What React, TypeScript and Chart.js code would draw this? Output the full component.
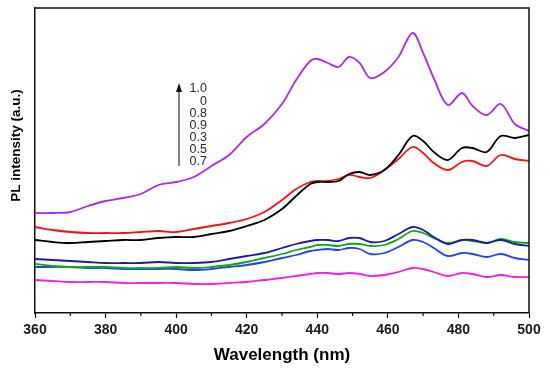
import React, { useEffect, useRef } from "react";
import { Chart, registerables } from "chart.js";

Chart.register(...registerables);

const wavelengths = [360, 365, 370, 375, 380, 385, 390, 395, 400, 405, 410, 415, 420, 425, 430, 434, 438, 440, 443, 446, 449, 452, 455, 459, 463, 467, 470, 473, 477, 481, 484, 488, 492, 496, 500];

const purple = [100, 100, 101, 107, 112, 115, 119, 128, 131, 136, 147, 158, 176, 189, 209, 233, 252, 254, 250, 246, 256, 250, 235, 241, 256, 280, 260, 235, 208, 220, 207, 198, 209, 189, 182];
const black = [73, 71, 70, 71, 72, 73, 73, 75, 76, 76, 79, 82, 87, 93, 104, 117, 129, 131, 131, 132, 139, 141, 138, 143, 158, 177, 172, 161, 153, 165, 165, 161, 177, 175, 178];
const red = [86, 83, 81, 80, 80, 80, 81, 82, 81, 84, 87, 90, 94, 101, 113, 124, 131, 132, 132, 134, 138, 136, 135, 143, 154, 166, 160, 150, 143, 151, 152, 147, 158, 154, 152];
const navy = [54, 53, 52, 51, 50, 50, 50, 51, 50, 50, 51, 54, 57, 60, 65, 69, 72, 73, 73, 72, 75, 75, 71, 72, 79, 86, 83, 76, 69, 73, 73, 70, 73, 69, 67];
const green = [49, 47, 46, 46, 46, 45, 45, 45, 46, 45, 46, 48, 51, 55, 59, 63, 66, 68, 68, 67, 69, 69, 67, 68, 74, 82, 80, 75, 70, 73, 72, 70, 74, 71, 70];
const blue = [46, 46, 46, 45, 45, 44, 44, 44, 44, 43, 44, 46, 48, 51, 55, 58, 62, 63, 64, 63, 65, 64, 59, 60, 66, 73, 71, 65, 57, 60, 59, 56, 59, 55, 53];
const magenta = [33, 32, 31, 31, 31, 30, 30, 30, 30, 29, 29, 30, 31, 33, 35, 37, 39, 40, 40, 39, 40, 39, 37, 38, 41, 45, 44, 41, 37, 40, 39, 36, 38, 36, 36];

const legendLabels = ["1.0", "0", "0.8", "0.9", "0.3", "0.5", "0.7"];

const xTicks = [360, 380, 400, 420, 440, 460, 480, 500];

const seriesList = [
  { label: "1.0", data: purple, color: "#A82CF2" },
  { label: "0", data: black, color: "#000000" },
  { label: "0.8", data: red, color: "#FF1010" },
  { label: "0.9", data: navy, color: "#1C1C9C" },
  { label: "0.3", data: green, color: "#14A814" },
  { label: "0.5", data: blue, color: "#2244F2" },
  { label: "0.7", data: magenta, color: "#F020EC" },
];

const FONT = "'Liberation Sans', Arial, sans-serif";

const annotationPlugin = {
  id: "annotationPlugin",
  afterDraw(chart: any) {
    const ctx = chart.ctx;
    const area = chart.chartArea;
    const xs = chart.scales.x;
    ctx.save();
    // frame (top and right)
    ctx.strokeStyle = "#111";
    ctx.lineWidth = 1.5;
    ctx.beginPath();
    ctx.moveTo(area.left, area.top);
    ctx.lineTo(area.right, area.top);
    ctx.lineTo(area.right, area.bottom);
    ctx.stroke();
    // minor ticks
    ctx.lineWidth = 1.2;
    for (let v = 370; v < 500; v += 20) {
      const px = xs.getPixelForValue(v);
      ctx.beginPath();
      ctx.moveTo(px, area.bottom);
      ctx.lineTo(px, area.bottom + 3);
      ctx.stroke();
    }
    // arrow
    const ax = 179;
    ctx.strokeStyle = "#333";
    ctx.lineWidth = 1.2;
    ctx.beginPath();
    ctx.moveTo(ax, 166);
    ctx.lineTo(ax, 90);
    ctx.stroke();
    ctx.fillStyle = "#111";
    ctx.beginPath();
    ctx.moveTo(ax, 83);
    ctx.lineTo(ax - 3, 92);
    ctx.lineTo(ax + 3, 92);
    ctx.closePath();
    ctx.fill();
    // labels
    ctx.font = "12.5px " + FONT;
    ctx.fillStyle = "#2a2a2a";
    ctx.textAlign = "right";
    ctx.textBaseline = "middle";
    legendLabels.forEach((t, i) => {
      ctx.fillText(t, 207, 89 + i * 12.1);
    });
    ctx.restore();
  },
};

export default function App() {
  const canvasRef = useRef<HTMLCanvasElement | null>(null);

  useEffect(() => {
    if (!canvasRef.current) return;
    const chart = new Chart(canvasRef.current, {
      type: "line",
      data: {
        labels: wavelengths,
        datasets: seriesList.map((s) => ({
          label: s.label,
          data: s.data.map((v, i) => ({ x: wavelengths[i], y: v })),
          borderColor: s.color,
          backgroundColor: s.color,
          borderWidth: 1.8,
          pointRadius: 0,
          tension: 0.35,
          fill: false,
        })),
      },
      options: {
        animation: false,
        responsive: false,
        maintainAspectRatio: false,
        layout: { padding: { top: 8, right: 21, left: 0, bottom: 0 } },
        plugins: {
          legend: { display: false },
          tooltip: { enabled: false },
        },
        scales: {
          x: {
            type: "linear",
            min: 360,
            max: 500,
            afterFit: (scale: any) => {
              scale.height = 59;
            },
            afterBuildTicks: (scale: any) => {
              scale.ticks = xTicks.map((v) => ({ value: v }));
            },
            ticks: {
              autoSkip: false,
              maxRotation: 0,
              padding: 4,
              color: "#1a1a1a",
              font: { family: FONT, size: 14, weight: "bold" },
              callback: (v: any) => String(v),
            },
            grid: {
              display: true,
              drawOnChartArea: false,
              drawTicks: true,
              tickLength: 5,
              tickColor: "#111",
              tickWidth: 1.2,
            },
            border: { display: true, color: "#111", width: 1.5 },
            title: {
              display: true,
              text: "Wavelength (nm)",
              color: "#000",
              font: { family: FONT, size: 17, weight: "bold" },
              padding: { top: 0, bottom: 6 },
            },
          },
          y: {
            type: "linear",
            min: 0,
            max: 305,
            afterFit: (scale: any) => {
              scale.width = 35;
            },
            ticks: { display: false },
            grid: { display: false, drawTicks: false },
            border: { display: true, color: "#111", width: 1.5 },
            title: {
              display: true,
              text: "        PL intensity (a.u.)",
              color: "#000",
              font: { family: FONT, size: 13.5, weight: "bold" },
              padding: { top: 8, bottom: 0 },
            },
          },
        },
      },
      plugins: [annotationPlugin],
    } as any);
    return () => chart.destroy();
  }, []);

  return (
    <div style={{ position: "fixed", left: 0, top: 0, width: 550, height: 372, background: "#fff" }}>
      <canvas ref={canvasRef} width={550} height={372} style={{ width: 550, height: 372 }} />
    </div>
  );
}
